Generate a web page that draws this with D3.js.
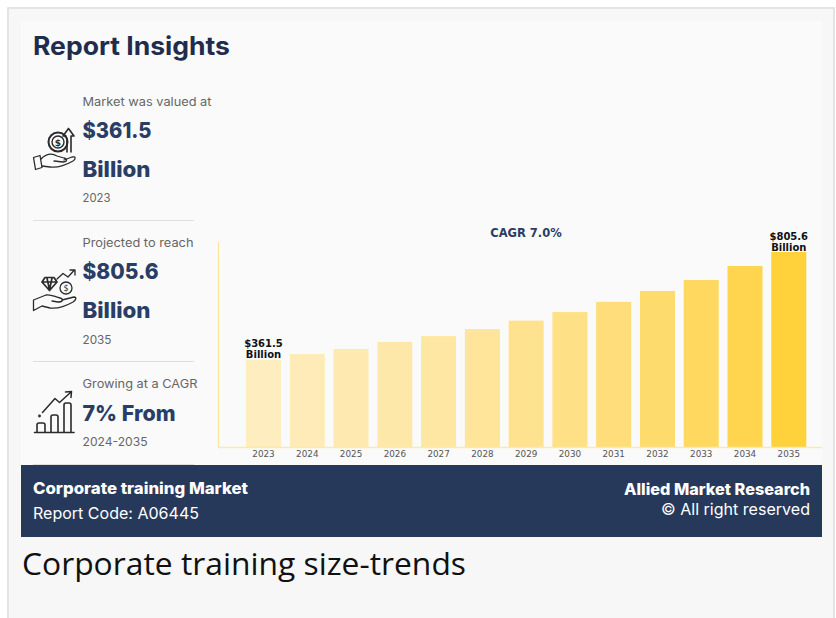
<!DOCTYPE html>
<html>
<head>
<meta charset="utf-8">
<title>Corporate training size-trends</title>
<script src="https://cdn.jsdelivr.net/npm/d3@7"></script>
<style>
  html, body { margin: 0; padding: 0; background: #fff; }
  svg { display: block; }
  .head { font-family: Inter, "Noto Sans", sans-serif; }
</style>
</head>
<body>
<div id="chart"></div>
<script>
// data
var years = ["2023","2024","2025","2026","2027","2028","2029","2030","2031","2032","2033","2034","2035"];
var marketSize = [361.5,385,406,435,459,488,523,558,600,645,690,748,805.6];
var endLabels = {"2023": "$361.5", "2035": "$805.6"};

var insightRows = [
  {top: "Market was valued at", big: ["$361.5", "Billion"], sub: "2023", ys: [106, 138, 177, 202], w: [129, 69, 68, 28]},
  {top: "Projected to reach", big: ["$805.6", "Billion"], sub: "2035", ys: [247, 279, 318, 344], w: [111, 76, 68, 29]},
  {top: "Growing at a CAGR", big: ["7% From"], sub: "2024-2035", ys: [388, 421, 446], w: [115, 93, 65]}
];
var separators = [220, 361, 464];

var svg = d3.select("#chart")
  .append("svg")
    .attr("width", 836)
    .attr("height", 618);

// page frame and image panel
svg.append("rect").attr("x", 8).attr("y", 8).attr("width", 826).attr("height", 620)
  .attr("fill", "#f7f7f7").attr("stroke", "#e4e4e4").attr("stroke-width", 2);
svg.append("rect").attr("x", 21).attr("y", 21).attr("width", 801).attr("height", 444).attr("fill", "#fafafa");

svg.append("text").attr("class", "head")
  .attr("x", 33).attr("y", 55)
  .attr("font-size", 25).attr("font-weight", 700).attr("fill", "#1f2c4d")
  .attr("textLength", 197).attr("lengthAdjust", "spacingAndGlyphs")
  .text("Report Insights");

// left column
insightRows.forEach(function(r) {
  var i = 0;
  function line(txt, size, weight, fill) {
    svg.append("text").attr("class", "head")
      .attr("x", 82.5).attr("y", r.ys[i])
      .attr("font-size", size).attr("font-weight", weight).attr("fill", fill)
      .attr("textLength", r.w[i]).attr("lengthAdjust", "spacingAndGlyphs")
      .text(txt);
    i++;
  }
  line(r.top, 11.5, 400, "#666");
  r.big.forEach(function(b) { line(b, 22, 800, "#2a3d64"); });
  line(r.sub, 11.5, 400, "#666");
});

svg.selectAll("line.sep")
  .data(separators)
  .enter()
  .append("line")
    .attr("class", "sep")
    .attr("x1", 33).attr("x2", 194)
    .attr("y1", function(d) { return d + 0.5; })
    .attr("y2", function(d) { return d + 0.5; })
    .attr("stroke", "#dedede");

// icons, hand drawn outlines
var icons = svg.append("g").attr("fill", "none").attr("stroke", "#2b2b2b").attr("stroke-width", 1.3)
  .attr("stroke-linejoin", "round").attr("stroke-linecap", "round");

// hand with coin and arrow
icons.append("path").attr("d", "M33.5 157.5 L40 155.5 L42 167.5 L35.5 169.5 Z");
icons.append("path").attr("d", "M41 159 C46 154 52 153 57 156 L64 158 C68 159 67 162 63 162 L54 161 M64 160 L72 157 C76 156 76 159 73 161 C66 165 58 168 50 167 L42 166");
icons.append("circle").attr("cx", 58).attr("cy", 142).attr("r", 9.5).attr("stroke-width", 2);
icons.append("circle").attr("cx", 58).attr("cy", 142).attr("r", 6).attr("stroke-width", 1.4);
icons.append("path").attr("stroke-width", 1.6).attr("d", "M68.5 128.5 L74 136 L71 136 L71 152 M68.5 128.5 L63 136 L66 136 M67 139 L67 152");
svg.append("text").attr("x", 58).attr("y", 146).attr("text-anchor", "middle")
  .attr("font-family", "DejaVu Sans").attr("font-size", 9).attr("font-weight", 700).attr("fill", "#2b2b2b").text("$");

// hand with diamond and coin
icons.append("path").attr("d", "M33.5 310.5 L33.5 300 L46 295 C51 294 55 297 60 298 C64 299 63 302 58 302 L52 301 M62 300 L74 297 C77 297 76 300 73 302 C66 306 58 309 50 308 L42 306 L33.5 310.5");
icons.append("path").attr("stroke-width", 1.7).attr("d", "M45 277.5 L54 277.5 L57 282 L49.5 290.5 L42 282 Z M42 282 L57 282 M47 278 L49.5 290 L52 278");
icons.append("circle").attr("cx", 66).attr("cy", 288).attr("r", 6);
icons.append("path").attr("d", "M57 279 L63 273.5 L68 277 L74 270.5 M70 270 L75 270 L75 275");
svg.append("text").attr("x", 66).attr("y", 291).attr("text-anchor", "middle")
  .attr("font-family", "DejaVu Sans").attr("font-size", 8).attr("fill", "#2b2b2b").text("$");

// growth bars
icons.append("path").attr("stroke-width", 1.6).attr("d", "M34.5 432.5 L74 432.5");
icons.append("path").attr("stroke-width", 1.6).attr("d", "M37 432 L37 425 Q37 423 39 423 L43 423 Q45 423 45 425 L45 432 M51 432 L51 417 Q51 415 53 415 L56 415 Q58 415 58 417 L58 432 M64 432 L64 405 Q64 403 66 403 L69 403 Q71 403 71 405 L71 432");
icons.append("path").attr("stroke-width", 1.5).attr("d", "M42.5 412.5 L55 398.5 L59.5 402.5 L71 392 M65.5 392 L71.5 391.5 L71 397.5");
icons.append("circle").attr("cx", 39.5).attr("cy", 416).attr("r", 0.8);

// bar chart
var x = d3.scaleBand()
  .range([246, 806.3])
  .domain(years)
  .paddingInner(0.2)
  .paddingOuter(0);

var y = d3.scaleLinear()
  .domain([0, 805.6])
  .range([447.5, 252]);

var colorScale = d3.scaleLinear()
  .domain([361.5, 558, 748, 805.6])
  .range(["#feedbe", "#fee086", "#ffd44f", "#ffd23c"]);

svg.selectAll("rect.bar")
  .data(marketSize)
  .enter()
  .append("rect")
    .attr("class", "bar")
    .attr("x", function(d, i) { return x(years[i]); })
    .attr("y", function(d) { return y(d); })
    .attr("width", x.bandwidth())
    .attr("height", function(d) { return y(0) - y(d); })
    .attr("fill", function(d) { return colorScale(d); });

// axes
var xAxis = svg.append("g")
  .attr("transform", "translate(0,447.5)")
  .call(d3.axisBottom(x).tickSize(0).tickPadding(3));
xAxis.select(".domain").remove();
xAxis.selectAll("text")
  .attr("font-family", "DejaVu Sans")
  .attr("font-size", 8.8)
  .attr("fill", "#555");

svg.append("line").attr("x1", 218).attr("x2", 822).attr("y1", 447.5).attr("y2", 447.5)
  .attr("stroke", "#fee9a8").attr("stroke-width", 1.5);
svg.append("line").attr("x1", 218.5).attr("x2", 218.5).attr("y1", 242).attr("y2", 448)
  .attr("stroke", "#fee59a").attr("stroke-width", 1.2);

// value labels on the first and last bar
years.forEach(function(yr, i) {
  if (!endLabels[yr]) return;
  var lab = svg.append("text")
    .attr("text-anchor", "middle")
    .attr("font-family", "DejaVu Sans")
    .attr("font-size", 10)
    .attr("font-weight", 700)
    .attr("fill", "#111");
  lab.append("tspan").attr("x", x(yr) + x.bandwidth() / 2).attr("y", y(marketSize[i]) - 12.5).text(endLabels[yr]);
  lab.append("tspan").attr("x", x(yr) + x.bandwidth() / 2).attr("y", y(marketSize[i]) - 1.5).text("Billion");
});

svg.append("text")
  .attr("x", 526).attr("y", 237)
  .attr("text-anchor", "middle")
  .attr("font-family", "DejaVu Sans")
  .attr("font-size", 11.5)
  .attr("font-weight", 700)
  .attr("fill", "#2a3d64")
  .text("CAGR 7.0%");

// footer band
svg.append("rect").attr("x", 21).attr("y", 465).attr("width", 801).attr("height", 72).attr("fill", "#27395a");
function foot(txt, xp, yp, w, weight, anchor) {
  svg.append("text").attr("class", "head")
    .attr("x", xp).attr("y", yp)
    .attr("text-anchor", anchor)
    .attr("font-size", 16).attr("font-weight", weight).attr("fill", "#fff")
    .attr("textLength", w).attr("lengthAdjust", "spacingAndGlyphs")
    .text(txt);
}
foot("Corporate training Market", 33, 494, 215, 800, "start");
foot("Report Code: A06445", 33, 519, 166, 400, "start");
foot("Allied Market Research", 810, 495, 186, 800, "end");
foot("© All right reserved", 810, 515, 149, 400, "end");

svg.append("text")
  .attr("x", 22).attr("y", 574.5)
  .attr("font-family", "Open Sans")
  .attr("font-size", 31.8)
  .attr("fill", "#111")
  .attr("textLength", 444)
  .attr("lengthAdjust", "spacingAndGlyphs")
  .text("Corporate training size-trends");
</script>
</body>
</html>
